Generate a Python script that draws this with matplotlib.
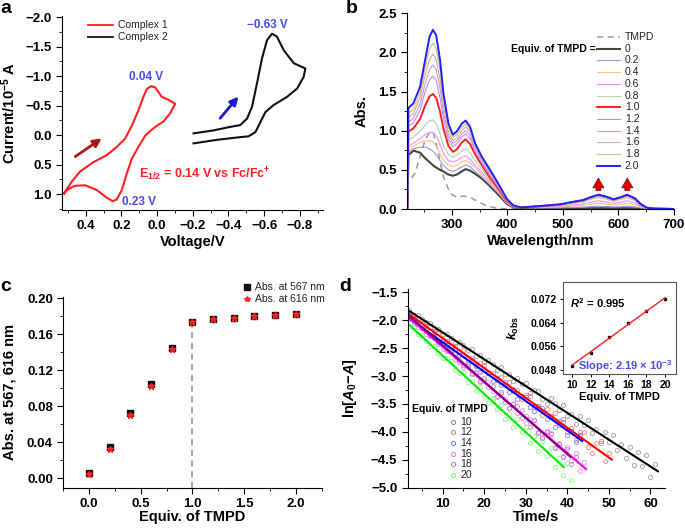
import numpy as np
import matplotlib
matplotlib.use('Agg')
import matplotlib.pyplot as plt
from matplotlib.ticker import MultipleLocator

plt.rcParams['font.family'] = ['Liberation Sans', 'DejaVu Sans']
plt.rcParams['font.weight'] = 'bold'
plt.rcParams['axes.labelweight'] = 'bold'
plt.rcParams['axes.linewidth'] = 0.8
plt.rcParams['mathtext.fontset'] = 'custom'
plt.rcParams['mathtext.rm'] = 'Liberation Sans:bold'
plt.rcParams['mathtext.it'] = 'Liberation Sans:italic:bold'
plt.rcParams['mathtext.bf'] = 'Liberation Sans:bold'
plt.rcParams['mathtext.default'] = 'rm'

TICK = 9.5
LAB = 10.5

# ---------------- panel a : cyclic voltammograms ----------------
cv1_v = [0.522, 0.479, 0.433, 0.358, 0.283, 0.226, 0.180, 0.142, 0.105, 0.077, 0.058,
         0.035, 0.011, -0.026, -0.063, -0.101, -0.073, -0.035, 0.002, 0.039, 0.067,
         0.105, 0.142, 0.170, 0.198, 0.226, 0.249, 0.283, 0.339, 0.404, 0.461, 0.507, 0.522]
cv1_i = [0.99, 0.79, 0.62, 0.46, 0.34, 0.20, 0.06, -0.16, -0.42, -0.65, -0.78,
         -0.83, -0.81, -0.65, -0.60, -0.53, -0.37, -0.23, -0.16, -0.07, 0.01,
         0.20, 0.40, 0.65, 0.93, 1.09, 1.12, 1.06, 0.93, 0.85, 0.86, 0.93, 0.99]
cv2_v = [-0.204, -0.316, -0.410, -0.466, -0.504, -0.532, -0.560, -0.588, -0.616, -0.644,
         -0.672, -0.710, -0.766, -0.831, -0.822, -0.785, -0.729, -0.653, -0.607, -0.579,
         -0.551, -0.513, -0.448, -0.335, -0.204]
cv2_i = [-0.03, -0.08, -0.14, -0.17, -0.28, -0.48, -0.88, -1.30, -1.61, -1.72,
         -1.67, -1.44, -1.22, -1.13, -0.99, -0.79, -0.65, -0.51, -0.39, -0.22,
         -0.05, 0.02, 0.04, 0.08, 0.14]

# ---------------- panel b : UV-vis titration ----------------
equiv_labels = ['0', '0.2', '0.4', '0.6', '0.8', '1.0', '1.2', '1.4', '1.6', '1.8', '2.0']
wl_uv = [220, 222, 231, 243, 252, 260, 266, 272, 279, 285, 294, 302, 309, 318, 325,
         333, 342, 354, 369, 387, 399, 411]
abs_uv = [
    [0, 0.69, 0.745, 0.72, 0.65, 0.60, 0.56, 0.53, 0.50, 0.48, 0.44, 0.425, 0.44, 0.48, 0.51, 0.49, 0.45, 0.39, 0.29, 0.16, 0.065, 0.02],
    [0, 0.73, 0.77, 0.79, 0.79, 0.77, 0.74, 0.69, 0.62, 0.56, 0.50, 0.48, 0.50, 0.54, 0.56, 0.54, 0.48, 0.41, 0.31, 0.18, 0.075, 0.025],
    [0, 0.75, 0.80, 0.85, 0.87, 0.87, 0.86, 0.80, 0.70, 0.62, 0.56, 0.54, 0.56, 0.60, 0.62, 0.59, 0.53, 0.44, 0.33, 0.19, 0.08, 0.025],
    [0, 0.80, 0.84, 0.90, 0.95, 0.98, 0.98, 0.94, 0.82, 0.71, 0.62, 0.60, 0.62, 0.66, 0.68, 0.64, 0.56, 0.47, 0.35, 0.20, 0.085, 0.03],
    [0, 0.88, 0.92, 0.99, 1.07, 1.13, 1.14, 1.09, 0.96, 0.81, 0.70, 0.66, 0.69, 0.74, 0.77, 0.72, 0.62, 0.51, 0.37, 0.21, 0.09, 0.03],
    [0, 0.99, 1.03, 1.15, 1.32, 1.44, 1.47, 1.42, 1.24, 1.03, 0.81, 0.73, 0.76, 0.85, 0.89, 0.83, 0.70, 0.56, 0.40, 0.23, 0.10, 0.035],
    [0, 1.06, 1.10, 1.26, 1.50, 1.65, 1.70, 1.64, 1.42, 1.16, 0.89, 0.80, 0.83, 0.92, 0.96, 0.90, 0.74, 0.59, 0.43, 0.245, 0.11, 0.04],
    [0, 1.11, 1.16, 1.34, 1.60, 1.78, 1.84, 1.78, 1.54, 1.24, 0.94, 0.84, 0.87, 0.96, 1.00, 0.94, 0.77, 0.62, 0.45, 0.255, 0.115, 0.04],
    [0, 1.17, 1.22, 1.42, 1.71, 1.91, 1.98, 1.91, 1.65, 1.32, 0.99, 0.87, 0.91, 1.00, 1.05, 0.98, 0.80, 0.64, 0.47, 0.265, 0.12, 0.04],
    [0, 1.22, 1.28, 1.48, 1.80, 2.04, 2.12, 2.05, 1.77, 1.40, 1.04, 0.91, 0.95, 1.04, 1.09, 1.01, 0.82, 0.65, 0.48, 0.275, 0.125, 0.045],
    [0, 1.29, 1.35, 1.56, 1.90, 2.20, 2.29, 2.22, 1.90, 1.48, 1.09, 0.95, 0.99, 1.09, 1.13, 1.05, 0.84, 0.67, 0.50, 0.285, 0.13, 0.045],
]
wl_vis = [425, 459, 495, 519, 537, 549, 564, 579, 591, 603, 616, 630, 639, 651, 665, 700]
abs_vis = [
    [0.015, 0.01, 0.01, 0.01, 0.01, 0.01, 0.01, 0.01, 0.01, 0.01, 0.01, 0.008, 0.006, 0.004, 0.003, 0.0],
    [0.018, 0.012, 0.015, 0.02, 0.024, 0.03, 0.035, 0.031, 0.026, 0.03, 0.035, 0.027, 0.016, 0.006, 0.003, 0.0],
    [0.018, 0.018, 0.026, 0.038, 0.047, 0.06, 0.073, 0.063, 0.05, 0.06, 0.073, 0.054, 0.028, 0.008, 0.003, 0.0],
    [0.02, 0.024, 0.035, 0.054, 0.067, 0.086, 0.105, 0.09, 0.072, 0.086, 0.105, 0.078, 0.04, 0.01, 0.003, 0.0],
    [0.02, 0.03, 0.048, 0.074, 0.092, 0.119, 0.145, 0.125, 0.099, 0.119, 0.145, 0.107, 0.055, 0.013, 0.004, 0.0],
    [0.02, 0.036, 0.057, 0.089, 0.11, 0.143, 0.174, 0.15, 0.118, 0.143, 0.174, 0.129, 0.066, 0.016, 0.005, 0.0],
    [0.02, 0.037, 0.058, 0.09, 0.112, 0.145, 0.177, 0.152, 0.12, 0.145, 0.177, 0.131, 0.067, 0.016, 0.005, 0.0],
    [0.02, 0.037, 0.059, 0.091, 0.112, 0.146, 0.178, 0.153, 0.121, 0.146, 0.178, 0.132, 0.068, 0.016, 0.005, 0.0],
    [0.02, 0.038, 0.059, 0.092, 0.113, 0.148, 0.18, 0.155, 0.122, 0.148, 0.18, 0.133, 0.068, 0.016, 0.005, 0.0],
    [0.02, 0.038, 0.06, 0.092, 0.114, 0.148, 0.181, 0.156, 0.123, 0.148, 0.181, 0.134, 0.069, 0.016, 0.005, 0.0],
    [0.02, 0.038, 0.06, 0.093, 0.115, 0.15, 0.183, 0.157, 0.124, 0.15, 0.183, 0.135, 0.07, 0.017, 0.005, 0.0],
]
tmpd_wl = [220, 222, 234, 243, 252, 261, 267, 276, 285, 297, 309, 321, 333, 348, 363, 381, 400, 700]
tmpd_abs = [0, 0.34, 0.46, 0.67, 0.88, 0.99, 0.97, 0.71, 0.41, 0.20, 0.15, 0.165, 0.15, 0.09, 0.04, 0.01, 0.0, 0.0]
arrow_wl = [564, 616]

# ---------------- panel c : titration curve ----------------
equiv = [0.0, 0.2, 0.4, 0.6, 0.8, 1.0, 1.2, 1.4, 1.6, 1.8, 2.0]
abs567 = [0.006, 0.035, 0.073, 0.105, 0.145, 0.174, 0.177, 0.178, 0.180, 0.181, 0.182]
abs616 = [0.005, 0.032, 0.070, 0.103, 0.144, 0.174, 0.177, 0.178, 0.180, 0.181, 0.182]

# ---------------- panel d : kinetics ----------------
kin_equiv = [10, 12, 14, 16, 18, 20]
fit_a = [-1.74, -1.79, -1.87, -1.84, -1.80, -1.95]
fit_k = [0.0480, 0.0534, 0.0526, 0.0635, 0.0650, 0.0685]
fit_tend = [61.8, 50.7, 43.6, 44.5, 40.8, 39.1]
# scatter of the raw points about the fit (hundredths), one point per second from t = 2 s
resid = [
    [1, -2, 2, 0, -1, 3, -2, 1, -3, 2, 0, -4, 3, 1, -2, 4, -3, 2, -5, 3, 1, -4, 6, -2, 3, -6, 4, -1, 5, -7,
     2, 6, -4, -8, 7, 3, -5, 9, -6, 2, -10, 8, -3, 11, -7, 4, -12, 9, -5, 13, -9, 6, -14, 10, -16, 12, -8, 15, -18, 9],
    [2, -1, 3, -2, 1, -3, 2, 4, -2, 1, -4, 3, -1, 5, -3, 2, -5, 4, 6, -3, 1, -6, 5, -2, 7, -4, 3, -8, 6, 9,
     -5, 2, -9, 7, -3, 10, -6, 11, -8, 4, -12, 9, 13, -7, -14, 10, 15, -11, 8],
    [1, -2, 2, -1, 3, -2, 1, -3, 2, 0, -4, 3, -2, 4, -3, 5, -1, -5, 4, 2, -6, 5, -3, 7, -4, 6, -7, 3, 8, -5,
     -8, 6, 9, -6, 4, -10, 7, 10, -8, 5, -11, 8],
    [-1, 2, -2, 1, -3, 2, 3, -2, -4, 1, 4, -3, 2, -5, 4, -2, 5, -6, 3, 6, -4, -7, 5, 2, -8, 7, -5, 8, -9, 4,
     9, -7, -10, 8, 11, -9, 5, -12, 10, -8, 12, -13, 9],
    [2, -1, 1, -2, 3, -3, 2, -1, 4, -3, 1, 5, -4, -2, 6, -5, 3, -6, 7, -3, 5, -7, 8, -4, -8, 6, 9, -7, 4, -9,
     10, -8, -10, 7, 11, -9, 6, -12, 10, -11, 8],
    [-2, 1, -3, 2, -1, -4, 3, -2, -5, 2, 4, -6, -3, 5, -7, 3, -8, 6, -4, -9, 7, -6, 8, -10, 5, -11, 9, -7, 10, -12,
     6, -13, 11, -9, 12, -14, 8, -15, 13, -10],
]
kobs = [0.0494, 0.0539, 0.0593, 0.0638, 0.0681, 0.0720]


def style_axes(ax):
    ax.spines['top'].set_visible(False)
    ax.spines['right'].set_visible(False)
    ax.tick_params(which='major', direction='out', length=4, width=0.8, labelsize=TICK)
    ax.tick_params(which='minor', direction='out', length=2, width=0.6)


def line_legend(ax, x0, x1, xt, y0, dy, entries, size=7.5):
    # entries: (label, color, lw, ls)
    for n, (lab, col, lw, ls) in enumerate(entries):
        y = y0 - n * dy
        ax.plot([x0, x1], [y, y], color=col, lw=lw, ls=ls, transform=ax.transAxes, clip_on=False)
        ax.text(xt, y, lab, transform=ax.transAxes, fontsize=size, fontweight='normal',
                va='center', ha='left', color='#222222')


fig = plt.figure(figsize=(6.85, 5.29), dpi=100)

# ---- a ----
ax = fig.add_axes([0.0909, 0.603, 0.3806, 0.3667])
style_axes(ax)
ax.plot(cv1_v, cv1_i, color='#ff2020', lw=1.5)
ax.plot(cv2_v, cv2_i, color='#111111', lw=1.5)
ax.set_xlim(0.532, -0.93)
ax.set_ylim(1.27, -2.02)
ax.xaxis.set_major_locator(MultipleLocator(0.2))
ax.xaxis.set_minor_locator(MultipleLocator(0.1))
ax.yaxis.set_major_locator(MultipleLocator(0.5))
ax.yaxis.set_minor_locator(MultipleLocator(0.25))
ax.set_xlabel('Voltage/V', fontsize=LAB, labelpad=2)
ax.set_ylabel(r'Current/10$^{-5}$ A', fontsize=LAB)
ax.yaxis.set_label_coords(-0.17, 0.5)
ax.annotate('', xy=(0.298, 0.03), xytext=(0.472, 0.39),
            arrowprops=dict(arrowstyle='-|>', color='#a81818', lw=2, mutation_scale=12))
ax.annotate('', xy=(-0.466, -0.69), xytext=(-0.343, -0.25),
            arrowprops=dict(arrowstyle='-|>', color='#1a1ac8', lw=2, mutation_scale=12))
ax.text(0.063, -0.98, '0.04 V', color='#4b4bef', fontsize=8.5, ha='center', va='center')
ax.text(0.103, 1.14, '0.23 V', color='#4b4bef', fontsize=8.5, ha='center', va='center')
ax.text(-0.618, -1.86, '\u22120.63 V', color='#4b4bef', fontsize=8.5, ha='center', va='center')
ax.text(-0.27, 0.66, r'E$_{1/2}$ = 0.14 V vs Fc/Fc$^{+}$', color='#ff2020', fontsize=9,
        ha='center', va='center')
line_legend(ax, 0.098, 0.194, 0.214, 0.954, 0.062,
            [('Complex 1', '#ff2020', 1.3, '-'), ('Complex 2', '#111111', 1.3, '-')])

# ---- b ----
ax = fig.add_axes([0.5946, 0.6049, 0.3893, 0.3699])
style_axes(ax)
colors = ['#444444', '#9999dd', '#ffc080', '#ff88ff', '#a8d8a8', '#ff2020',
          '#c088ff', '#cc99cc', '#e0a8a8', '#c8c880', '#2020ff']
widths = [1.5, 0.8, 0.8, 0.8, 0.8, 1.4, 0.8, 0.8, 0.8, 0.8, 1.4]
ax.plot(tmpd_wl, tmpd_abs, color='#999999', lw=1.1, ls=(0, (4, 3)))
for n in range(len(equiv_labels)):
    ax.plot(wl_uv + wl_vis, abs_uv[n] + abs_vis[n], color=colors[n], lw=widths[n])
for w in arrow_wl:
    ax.annotate('', xy=(w, 0.43), xytext=(w, 0.2),
                arrowprops=dict(arrowstyle='simple,head_length=0.7,head_width=0.8,tail_width=0.35',
                                fc='#e00000', ec='#7a0000', lw=0.5, mutation_scale=10))
ax.set_xlim(220, 700)
ax.set_ylim(0, 2.5)
ax.xaxis.set_major_locator(MultipleLocator(100))
ax.xaxis.set_minor_locator(MultipleLocator(50))
ax.yaxis.set_major_locator(MultipleLocator(0.5))
ax.yaxis.set_minor_locator(MultipleLocator(0.25))
ax.set_xlabel('Wavelength/nm', fontsize=LAB, labelpad=2)
ax.set_ylabel('Abs.', fontsize=LAB)
ax.yaxis.set_label_coords(-0.145, 0.5)
entries = [('TMPD', '#999999', 1.1, (0, (4, 3)))]
entries += [(lab, colors[n], widths[n], '-') for n, lab in enumerate(equiv_labels)]
line_legend(ax, 0.711, 0.797, 0.816, 0.880, 0.06, entries, size=7.5)
ax.text(0.707, 0.880 - 0.06, 'Equiv. of TMPD =', transform=ax.transAxes, fontsize=7.5,
        ha='right', va='center')

# ---- c ----
ax = fig.add_axes([0.0924, 0.0781, 0.3772, 0.3599])
style_axes(ax)
ax.vlines(equiv[5], -0.0105, abs567[5], colors='#888888', linestyles=(0, (4, 3)), lw=1.1)
ax.plot(equiv, abs567, 's', color='#111111', ms=4.5)
ax.plot(equiv, abs616, '*', color='#ff2020', ms=5)
ax.set_xlim(-0.25, 2.25)
ax.set_ylim(-0.0105, 0.201)
ax.xaxis.set_major_locator(MultipleLocator(0.5))
ax.xaxis.set_minor_locator(MultipleLocator(0.25))
ax.yaxis.set_major_locator(MultipleLocator(0.04))
ax.yaxis.set_minor_locator(MultipleLocator(0.02))
ax.set_xticks([0, 0.5, 1.0, 1.5, 2.0])
ax.set_xticklabels(['0.0', '0.5', '1.0', '1.5', '2.0'])
ax.set_yticks([0, 0.04, 0.08, 0.12, 0.16, 0.20])
ax.set_yticklabels(['0.00', '0.04', '0.08', '0.12', '0.16', '0.20'])
ax.set_xlabel('Equiv. of TMPD', fontsize=LAB, labelpad=0)
ax.set_ylabel('Abs. at 567, 616 nm', fontsize=LAB)
ax.yaxis.set_label_coords(-0.18, 0.5)
for n, (mk, col, lab) in enumerate([('s', '#111111', 'Abs. at 567 nm'), ('*', '#ff2020', 'Abs. at 616 nm')]):
    y = 1.056 - n * 0.065
    ax.plot([0.71], [y], mk, color=col, ms=4, transform=ax.transAxes, clip_on=False)
    ax.text(0.742, y, lab, transform=ax.transAxes, fontsize=7.5, fontweight='normal',
            va='center', color='#222222')

# ---- d ----
ax = fig.add_axes([0.5952, 0.0781, 0.3756, 0.3747])
style_axes(ax)
pt_cols = ['#8c8c8c', '#ff7070', '#7070ff', '#ff70ff', '#c070c0', '#70ff70']
ln_cols = ['#000000', '#ff0000', '#0000ff', '#ff00ff', '#800080', '#00ee00']
for n in range(len(kin_equiv)):
    t = np.arange(2, 2 + len(resid[n]))
    y = fit_a[n] - fit_k[n] * t + np.array(resid[n]) / 100.0
    ax.plot(t, y, 'o', mfc='none', mec=pt_cols[n], mew=0.7, ms=3.0, alpha=0.75)
for n in range(len(kin_equiv)):
    tl = np.array([1.6, fit_tend[n]])
    ax.plot(tl, fit_a[n] - fit_k[n] * tl, color=ln_cols[n], lw=1.5)
ax.set_xlim(1.6, 63.5)
ax.set_ylim(-5.0, -1.45)
ax.xaxis.set_major_locator(MultipleLocator(10))
ax.xaxis.set_minor_locator(MultipleLocator(5))
ax.yaxis.set_major_locator(MultipleLocator(0.5))
ax.yaxis.set_minor_locator(MultipleLocator(0.25))
ax.set_xticks([10, 20, 30, 40, 50, 60])
ax.set_xlabel('Time/s', fontsize=LAB, labelpad=0)
ax.set_ylabel('ln[$\\mathit{A}_0$\u2212$\\mathit{A}$]', fontsize=LAB)
ax.yaxis.set_label_coords(-0.19, 0.5)
ax.text(0.0155, 0.396, 'Equiv. of TMPD', transform=ax.transAxes, fontsize=7.5, va='center')
for n, lab in enumerate(kin_equiv):
    y = 0.333 - n * 0.0538
    ax.plot([0.177], [y], 'o', mfc='none', mec=pt_cols[n], mew=0.7, ms=3,
            transform=ax.transAxes, clip_on=False)
    ax.text(0.203, y, str(lab), transform=ax.transAxes, fontsize=7.5, fontweight='normal',
            va='center', color='#222222')

# inset
axi = fig.add_axes([0.8219, 0.2930, 0.165, 0.1745])
for s in axi.spines.values():
    s.set_color('#555555')
    s.set_linewidth(0.8)
axi.plot(kin_equiv, kobs, 's', color='#111111', ms=1.8)
p = np.polyfit(kin_equiv, kobs, 1)
xf = np.array([kin_equiv[0], kin_equiv[-1]])
axi.plot(xf, np.polyval(p, xf), color='#ff2020', lw=1.0)
axi.set_xlim(9.0, 21.2)
axi.set_ylim(0.0466, 0.078)
axi.set_xticks([10, 12, 14, 16, 18, 20])
axi.set_yticks([0.048, 0.056, 0.064, 0.072])
axi.tick_params(direction='out', length=2.5, width=0.7, labelsize=7.5, pad=2)
axi.set_xlabel('Equiv. of TMPD', fontsize=8, labelpad=1)
axi.set_ylabel(r'$\mathit{k}_{\mathrm{obs}}$', fontsize=9, labelpad=1)
axi.yaxis.set_label_coords(-0.37, 0.5)
axi.text(0.062, 0.772, r'$\mathit{R}^2$ = 0.995', transform=axi.transAxes, fontsize=8, va='center')
axi.text(0.133, 0.087, r'Slope: 2.19 $\times$ 10$^{-3}$', transform=axi.transAxes, fontsize=8,
         va='center', color='#4b4bef')

# panel letters
for lab, x, y in [('a', 0.0, 1.0), ('b', 0.505, 1.0), ('c', 0.0, 0.475), ('d', 0.495, 0.475)]:
    fig.text(x, y, lab, fontsize=14, fontweight='bold', va='top', ha='left')

fig.savefig('out.png', dpi=100)
